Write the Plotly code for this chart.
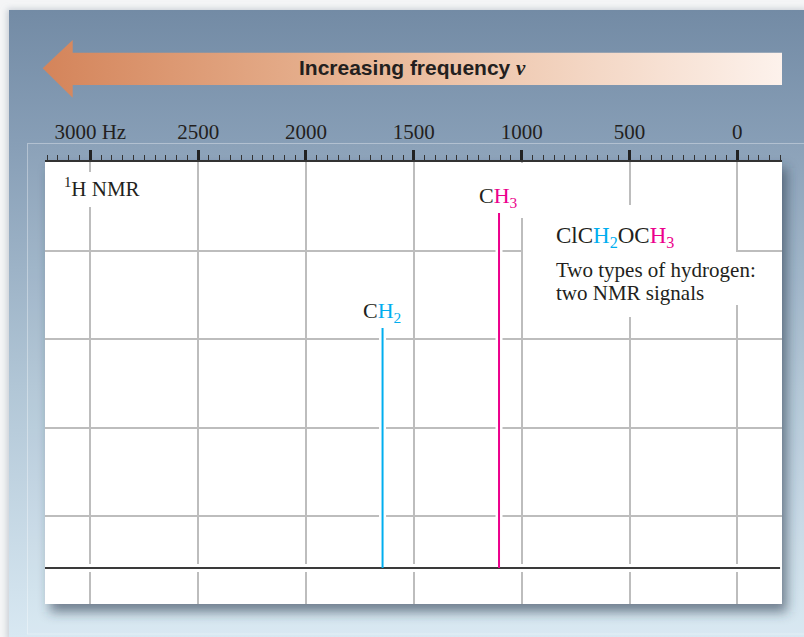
import base64
import plotly.graph_objects as go

# ---------------- data ----------------
peak_names = ["CH2", "CH3"]
peak_hz = [1645, 1105]          # frequency of each signal (Hz)
peak_height = [240, 355]        # relative signal height
peak_colors = ["#00aeef", "#ec008c"]
peak_label_text = [
    "C<span style='color:#00aeef'>H<sub>2</sub></span>",
    "C<span style='color:#ec008c'>H<sub>3</sub></span>",
]
tick_vals = [3000, 2500, 2000, 1500, 1000, 500, 0]
tick_text = ["3000 Hz", "2500", "2000", "1500", "1000", "500", "0"]
x_range = [3210, -207]
y_range = [-36, 406]
baseline_x = [3210, -198]
baseline_y = [0, 0]

# ---------------- geometry helpers (layout only) ----------------
W, H = 804, 637
L, R, T, B = 45, 782, 162, 604


def fx(px):
    return (px - L) / (R - L)


def fy(py):
    return (B - py) / (B - T)


def dx(px):
    return x_range[0] + fx(px) * (x_range[1] - x_range[0])


def dy(py):
    return y_range[0] + fy(py) * (y_range[1] - y_range[0])


# ---------------- background artwork (svg) ----------------
svg = f'''<svg xmlns="http://www.w3.org/2000/svg" width="{W}" height="{H}" viewBox="0 0 {W} {H}" preserveAspectRatio="none">
<defs>
<linearGradient id="bg" x1="0" y1="0" x2="0" y2="1">
<stop offset="0" stop-color="#738ba5"/>
<stop offset="0.22" stop-color="#889fb7"/>
<stop offset="0.6" stop-color="#b1c6d6"/>
<stop offset="1" stop-color="#d8e8f2"/>
</linearGradient>
<linearGradient id="ar" x1="0" y1="0" x2="1" y2="0">
<stop offset="0" stop-color="#d4845a"/>
<stop offset="0.45" stop-color="#e9b898"/>
<stop offset="1" stop-color="#fdf2ec"/>
</linearGradient>
<filter id="sh" x="-20%" y="-20%" width="140%" height="140%"><feGaussianBlur stdDeviation="6"/></filter>
<filter id="sh2" x="-20%" y="-20%" width="140%" height="140%"><feGaussianBlur stdDeviation="3"/></filter>
</defs>
<rect width="{W}" height="{H}" fill="#f4f5f6"/>
<rect x="7" y="9" width="800" height="632" fill="#9aa6b2" fill-opacity="0.5" filter="url(#sh2)"/>
<rect x="9" y="10" width="795" height="627" fill="url(#bg)"/>
<rect x="27.5" y="143.5" width="800" height="490.5" fill="#ffffff" fill-opacity="0.04" stroke="#ffffff" stroke-opacity="0.35"/>
<rect x="50" y="168" width="737" height="444" fill="#2c3e50" fill-opacity="0.6" filter="url(#sh)"/>
<rect x="{L}" y="{T}" width="{R - L}" height="{B - T}" fill="#ffffff"/>
<polygon points="42.7,68.3 72.7,40 72.7,52.7 782,52.7 782,85 72.7,85 72.7,97.7" fill="url(#ar)"/>
</svg>'''
svg_uri = "data:image/svg+xml;base64," + base64.b64encode(svg.encode()).decode()

fig = go.Figure()

# white under-strokes that break the grid around the spectrum
fig.add_trace(go.Scatter(x=baseline_x, y=baseline_y, mode="lines",
                         line=dict(color="white", width=8), hoverinfo="skip", showlegend=False))
for i in range(len(peak_hz)):
    fig.add_trace(go.Scatter(x=[peak_hz[i], peak_hz[i]], y=[0, peak_height[i]], mode="lines",
                             line=dict(color="white", width=7), hoverinfo="skip", showlegend=False))
# baseline
fig.add_trace(go.Scatter(x=baseline_x, y=baseline_y, mode="lines",
                         line=dict(color="#3a3a3a", width=2), hoverinfo="skip", showlegend=False))
# peaks
for i in range(len(peak_hz)):
    fig.add_trace(go.Scatter(x=[peak_hz[i], peak_hz[i]], y=[0, peak_height[i]], mode="lines",
                             line=dict(color=peak_colors[i], width=2), name=peak_names[i],
                             showlegend=False))

serif = "Liberation Serif, Times New Roman, serif"
ink = "#231f20"

annotations = []
# peak labels
for i in range(len(peak_hz)):
    annotations.append(dict(x=peak_hz[i], y=peak_height[i], xref="x", yref="y",
                            text=peak_label_text[i], showarrow=False,
                            xanchor="center", yanchor="middle", xshift=-1, yshift=16,
                            font=dict(family=serif, size=22, color=ink)))

annotations += [
    dict(x=fx(62), y=fy(187), xref="paper", yref="paper", text="<sup>1</sup>H NMR",
         showarrow=False, xanchor="left", yanchor="middle",
         font=dict(family=serif, size=21, color=ink)),
    dict(x=fx(554), y=fy(237), xref="paper", yref="paper",
         text="ClC<span style='color:#00aeef'>H<sub>2</sub></span>OC<span style='color:#ec008c'>H<sub>3</sub></span>",
         showarrow=False, xanchor="left", yanchor="middle",
         font=dict(family=serif, size=23, color=ink)),
    dict(x=fx(554), y=fy(269.5), xref="paper", yref="paper", text="Two types of hydrogen:",
         showarrow=False, xanchor="left", yanchor="middle",
         font=dict(family=serif, size=21, color=ink)),
    dict(x=fx(554), y=fy(293), xref="paper", yref="paper", text="two NMR signals",
         showarrow=False, xanchor="left", yanchor="middle",
         font=dict(family=serif, size=21, color=ink)),
    dict(x=fx(412), y=fy(68), xref="paper", yref="paper",
         text="<b>Increasing frequency </b><span style='font-family:Liberation Serif'><b><i>ν</i></b></span>",
         showarrow=False, xanchor="center", yanchor="middle",
         font=dict(family="Liberation Sans, Arial, sans-serif", size=21, color=ink)),
]

# white patches behind the text blocks (cover the grid only, stay under the traces)
shapes = []
for (x0, y0, x1, y1) in [(60, 172, 142, 207), (470, 163, 526, 218),
                         (523, 205, 736, 317), (730, 252, 742, 305)]:
    shapes.append(dict(type="rect", xref="x", yref="y",
                       x0=dx(x0), x1=dx(x1), y0=dy(y1), y1=dy(y0),
                       fillcolor="white", line=dict(width=0), layer="between"))

fig.update_layout(
    width=W, height=H,
    margin=dict(l=L, r=W - R, t=T, b=H - B, pad=0),
    paper_bgcolor="#f4f5f6",
    plot_bgcolor="white",
    showlegend=False,
    annotations=annotations,
    shapes=shapes,
    images=[dict(source=svg_uri, xref="paper", yref="paper",
                 x=fx(0), y=fy(0), sizex=W / (R - L), sizey=H / (B - T),
                 xanchor="left", yanchor="top", sizing="stretch", layer="below")],
    xaxis=dict(range=x_range, side="top", tickmode="array", tickvals=tick_vals, ticktext=tick_text,
               ticks="outside", ticklen=10, tickwidth=2.5, tickcolor="#222222",
               showline=True, linewidth=2, linecolor="#333333",
               showgrid=True, gridcolor="#bdbdbd", gridwidth=1.5, zeroline=False,
               tickfont=dict(family=serif, size=21, color=ink),
               ticklabelstandoff=3,
               minor=dict(tickmode="linear", tick0=0, dtick=50, ticks="outside", ticklen=5,
                          tickwidth=1, tickcolor="#333333", showgrid=False),
               fixedrange=True),
    yaxis=dict(range=y_range, tickmode="linear", tick0=52, dtick=88.5,
               showgrid=True, gridcolor="#bdbdbd", gridwidth=1.5, zeroline=False,
               showticklabels=False, ticks="", showline=False, fixedrange=True),
)

fig.write_html("out.html", config={"displayModeBar": False},
               post_script="document.body.style.margin='0px';document.body.style.overflow='hidden';")
